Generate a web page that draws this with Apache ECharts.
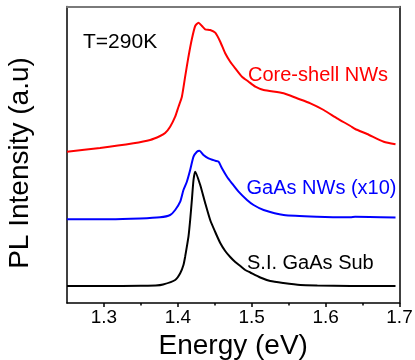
<!DOCTYPE html>
<html>
<head>
<meta charset="utf-8">
<script src="https://cdn.jsdelivr.net/npm/echarts@6/dist/echarts.min.js"></script>
<style>
  html, body { margin: 0; padding: 0; background: #fff; }
  #chart { width: 415px; height: 360px; }
</style>
</head>
<body>
<div id="chart"></div>
<script>
// tick labels on the energy axis
const majorTicks = [1.3, 1.4, 1.5, 1.6, 1.7]
const minorTicks = [1.35, 1.45, 1.55, 1.65]

// S.I. GaAs substrate
const subE = [1.25, 1.30, 1.35, 1.37, 1.38, 1.3964, 1.4032, 1.4076, 1.4099, 1.4122, 1.4144, 1.4167, 1.419, 1.4212, 1.4235,
  1.4303, 1.437, 1.4438, 1.4506, 1.4574, 1.4641, 1.4709, 1.4777, 1.4845, 1.4913, 1.498, 1.5116, 1.5251, 1.5428, 1.5658, 1.5888, 1.6336, 1.6946]
const subI = [17, 17, 17.3, 17.5, 18.5, 23, 29.7, 38, 46.3, 56.3, 66.3, 83, 103, 123, 131.3,
  118, 100, 83, 71, 60, 52, 46, 41, 37, 33, 30.5, 25.5, 22, 20, 18, 17.5, 17, 17]

// GaAs NWs (x10)
const nwE = [1.25, 1.3083, 1.349, 1.376, 1.3896, 1.3964, 1.4032, 1.4076, 1.4122, 1.4167, 1.4212, 1.4258, 1.4293, 1.4347, 1.4415,
  1.4506, 1.4551, 1.4597, 1.4665, 1.4732, 1.4822, 1.4936, 1.5025, 1.5161, 1.5432, 1.5884, 1.6336, 1.64, 1.6946]
const nwI = [83.7, 83.7, 84.5, 85.7, 88, 93, 101.3, 113, 121.3, 133, 146.3, 151.3, 152.3, 148, 144.7,
  142.3, 141.3, 134.7, 126.3, 119.7, 111.3, 103, 98, 93, 88, 86.3, 85.8, 86.2, 85.5]

// Core-shell NWs
const csE = [1.25, 1.2947, 1.3399, 1.3625, 1.376, 1.3828, 1.3896, 1.3964, 1.4009, 1.4055, 1.4099, 1.4144, 1.419, 1.4235, 1.428,
  1.4326, 1.437, 1.4438, 1.4506, 1.4574, 1.4641, 1.4709, 1.4777, 1.4868, 1.4958, 1.5049, 1.5161, 1.5432, 1.5613, 1.5794,
  1.5974, 1.6155, 1.6336, 1.64, 1.6562, 1.6787, 1.6946]
const csI = [151.3, 155, 159.7, 163, 167, 170, 176.3, 186.3, 196.3, 206.3, 226.3, 246.3, 264, 277, 280.3,
  277, 273.7, 273, 270.3, 261.3, 249.7, 241.3, 234.7, 226.3, 221.3, 216.3, 213, 209.7, 204.7, 199.7,
  193, 184.7, 177, 174, 169, 161.3, 158.8]

const zip = (xs, ys) => xs.map((x, i) => [x, ys[i]])

const font = 'Liberation Sans, Arial, sans-serif'
const chart = echarts.init(document.getElementById('chart'))

const mkLine = (name, data, color) => ({
  name: name,
  type: 'line',
  data: data,
  showSymbol: false,
  smooth: 0.2,
  lineStyle: { color: color, width: 2 },
  itemStyle: { color: color },
  animation: false
})

// plain text label, x = left edge, y = middle of the caps
const label = (text, x, y, size, color, rot) => ({
  type: 'text', x: x, y: y, rotation: rot || 0,
  style: { text: text, font: size + 'px ' + font, fill: color, align: rot ? 'center' : 'left', verticalAlign: 'middle' }
})

chart.setOption({
  animation: false,
  grid: { left: 67, right: 15.5, top: 6.5, bottom: 57, outerBoundsMode: 'none', containLabel: false },
  xAxis: [
    {
      type: 'value', min: 1.25, max: 1.7,
      name: 'Energy (eV)', nameLocation: 'middle', nameGap: 15,
      nameTextStyle: { fontSize: 28, color: '#000', fontFamily: font },
      axisLine: { lineStyle: { color: '#000', width: 1.5 } },
      axisTick: { show: true, customValues: majorTicks, length: 4, lineStyle: { color: '#000', width: 1.5 } },
      axisLabel: { customValues: majorTicks, fontSize: 19, color: '#000', fontFamily: font, margin: 5,
        formatter: v => v.toFixed(1) },
      splitLine: { show: false }
    },
    {
      type: 'value', min: 1.25, max: 1.7, position: 'bottom',
      axisLine: { show: false },
      axisTick: { show: true, customValues: minorTicks, length: 2.5, lineStyle: { color: '#000', width: 1.5 } },
      axisLabel: { show: false },
      splitLine: { show: false }
    },
    {
      type: 'value', min: 1.25, max: 1.7, position: 'top',
      axisLine: { show: true, lineStyle: { color: '#7a7a7a', width: 2 } },
      axisTick: { show: false }, axisLabel: { show: false }, splitLine: { show: false }
    }
  ],
  yAxis: [
    {
      type: 'value', min: 0, max: 296.5,
      axisLine: { show: true, lineStyle: { color: '#000', width: 1.5 } },
      axisTick: { show: false }, axisLabel: { show: false }, splitLine: { show: false }
    },
    {
      type: 'value', min: 0, max: 296.5, position: 'right',
      axisLine: { show: true, lineStyle: { color: '#000', width: 1.5 } },
      axisTick: { show: false }, axisLabel: { show: false }, splitLine: { show: false }
    }
  ],
  series: [
    mkLine('S.I. GaAs Sub', zip(subE, subI), '#000000'),
    mkLine('GaAs NWs (x10)', zip(nwE, nwI), '#0000ff'),
    mkLine('Core-shell NWs', zip(csE, csI), '#ff0000')
  ],
  graphic: [
    label('PL Intensity (a.u)', 20, 163, 28, '#000', Math.PI / 2),
    label('T=290K', 83, 42.5, 21, '#000'),
    label('Core-shell NWs', 248, 75.5, 20, '#ff0000'),
    label('GaAs NWs (x10)', 246.5, 188.7, 20, '#0000ff'),
    label('S.I. GaAs Sub', 247, 263.3, 20, '#000')
  ]
})
</script>
</body>
</html>
